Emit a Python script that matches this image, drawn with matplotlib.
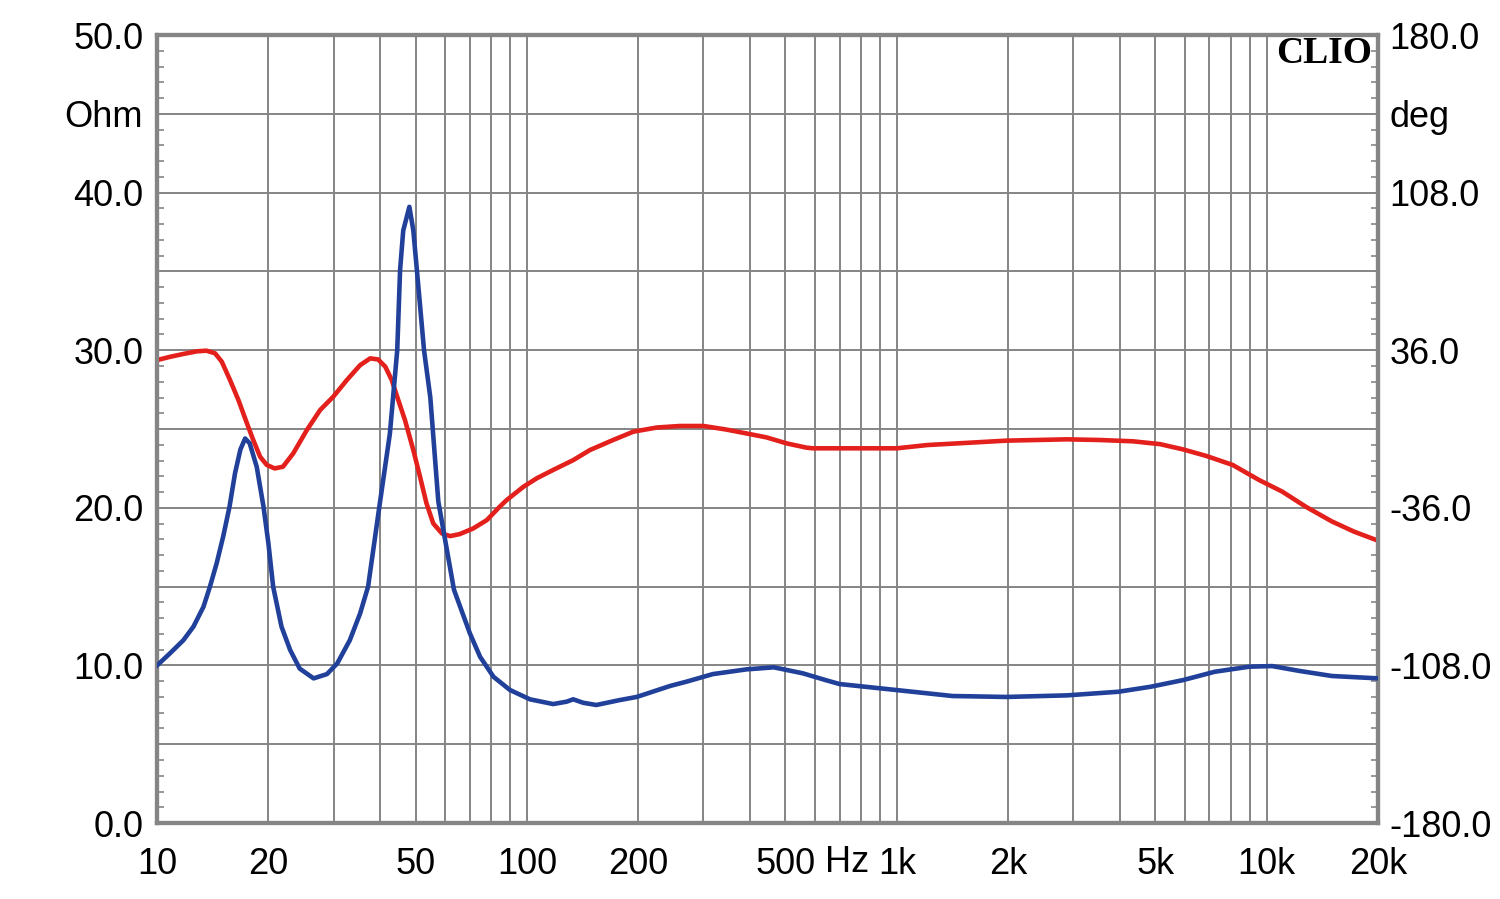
import matplotlib
matplotlib.use("Agg")
import matplotlib.pyplot as plt
from matplotlib.ticker import FixedLocator, NullFormatter, MultipleLocator

# ---- data ----
imp_freq = [10, 10.84, 11.78, 12.54, 13.35, 13.9, 14.5, 15.1, 15.7, 16.25, 16.8, 17.3, 17.8, 18.6,
            19.4, 20.0, 20.6, 21.7, 22.9, 24.3, 26.5, 28.8, 30.7, 33.2, 35.4, 37.2, 39.9, 42.6,
            44.6, 45.4, 46.3, 48.1, 49.3, 50.4, 52.7, 54.8, 57.6, 63.5, 70.1, 74.7, 81.2, 90,
            101.9, 117.7, 128, 133.4, 142, 154, 178, 198, 244, 270, 318, 392, 465, 557, 642, 700,
            900, 1210, 1414, 1977, 2880, 3970, 4860, 5940, 7240, 8970, 10340, 12200, 15000, 20000]
imp_ohm = [10.0, 10.77, 11.6, 12.46, 13.72, 15.0, 16.5, 18.2, 20.07, 22.2, 23.7, 24.4, 24.1, 22.6,
           20.07, 17.75, 15.0, 12.46, 10.98, 9.8, 9.18, 9.45, 10.13, 11.6, 13.3, 15.0, 20.07, 24.7,
           30.0, 35.1, 37.6, 39.1, 37.6, 35.1, 30.0, 27.0, 20.4, 14.8, 12.04, 10.55, 9.28, 8.44,
           7.85, 7.55, 7.7, 7.85, 7.63, 7.49, 7.8, 8.0, 8.7, 8.97, 9.45, 9.75, 9.88, 9.5, 9.07, 8.82,
           8.55, 8.23, 8.06, 8.0, 8.1, 8.33, 8.65, 9.07, 9.6, 9.92, 9.96, 9.66, 9.33, 9.18]

ph_freq = [10, 10.84, 11.78, 12.8, 13.6, 14.35, 14.96, 15.75, 16.6, 17.5, 18.2, 19.0, 19.8, 20.8,
           21.9, 23.35, 25.4, 27.6, 29.96, 32.6, 35.4, 37.7, 39.6, 41.4, 43.1, 44.9, 46.8, 49.3,
           51.4, 53.5, 55.8, 58.9, 62.0, 65.8, 71.6, 77.9, 84.4, 88.2, 97.8, 106.3, 117.7, 133.4,
           148, 171, 194, 224.5, 259, 300, 345, 392, 444, 505, 570, 593, 1000, 1210, 1550, 1977,
           2880, 3530, 4350, 5150, 5940, 6870, 8090, 9540, 11020, 12760, 15000, 17240, 20000]
ph_deg = [31.5, 33.0, 34.3, 35.5, 35.8, 34.6, 30.8, 22.4, 13.2, 2.6, -5.0, -12.7, -16.4, -18.0,
          -17.2, -11.1, -0.5, 8.7, 14.8, 22.4, 29.2, 32.3, 31.8, 28.5, 22.4, 13.2, 4.1, -9.6,
          -21.8, -33.9, -43.1, -47.7, -48.9, -48.0, -45.4, -41.6, -35.5, -32.4, -26.4, -22.5,
          -18.7, -14.2, -9.6, -5.0, -1.2, 0.7, 1.4, 1.4, -0.2, -2.0, -3.8, -6.6, -8.5, -8.8, -8.8,
          -7.3, -6.3, -5.3, -4.7, -5.0, -5.6, -6.9, -9.3, -12.3, -16.4, -23.3, -28.6, -35.5,
          -42.2, -46.9, -51.0]

x_ticks = [10, 20, 50, 100, 200, 500, 1000, 2000, 5000, 10000, 20000]
x_labels = ["10", "20", "50", "100", "200", "500", "1k", "2k", "5k", "10k", "20k"]
ohm_ticks = [0, 5, 10, 15, 20, 25, 30, 35, 40, 45, 50]
ohm_labels = ["0.0", "", "10.0", "", "20.0", "", "30.0", "", "40.0", "Ohm", "50.0"]
deg_ticks = [-180, -144, -108, -72, -36, 0, 36, 72, 108, 144, 180]
deg_labels = ["-180.0", "", "-108.0", "", "-36.0", "", "36.0", "", "108.0", "deg", "180.0"]

plt.rcParams['font.family'] = ['Liberation Sans', 'DejaVu Sans']

fig = plt.figure(figsize=(15, 8.99), dpi=100)
ax = fig.add_axes([0.1047, 0.0845, 0.8140, 0.8765])
ax2 = ax.twinx()
# phase axis behind, impedance axis in front
ax2.set_zorder(0)
ax.set_zorder(1)
ax.patch.set_visible(False)
ax2.xaxis.set_visible(True)

gray = "#858585"
ax.set_xscale("log")
ax.set_xlim(10, 20000)
ax.set_ylim(0, 50)
ax2.set_ylim(-180, 180)

ax.xaxis.set_major_locator(FixedLocator(x_ticks))
minor_x = [m * 10 ** e for e in range(1, 5) for m in range(1, 10)]
minor_x = [v for v in minor_x if 10 <= v <= 20000 and v not in x_ticks]
ax.xaxis.set_minor_locator(FixedLocator(minor_x))
ax.xaxis.set_minor_formatter(NullFormatter())
ax.set_xticks(x_ticks)
ax.set_xticklabels(x_labels)

ax.set_yticks(ohm_ticks)
ax.set_yticklabels(ohm_labels)
ax.yaxis.set_minor_locator(MultipleLocator(1))
ax2.set_yticks(deg_ticks)
ax2.set_yticklabels(deg_labels)
ax2.yaxis.set_minor_locator(MultipleLocator(7.2))

ax2.grid(True, which="both", axis="x", color=gray, linewidth=1.4)
ax2.grid(True, which="major", axis="y", color=gray, linewidth=1.4)

fs = 26
ax.tick_params(axis="x", which="both", length=0, labelsize=fs, pad=17)
ax.tick_params(axis="y", which="major", length=0, labelsize=fs, pad=10)
ax.tick_params(axis="y", which="minor", direction="in", length=5, width=1.2, color=gray)
ax2.tick_params(axis="y", which="major", length=0, labelsize=fs, pad=8)
ax2.tick_params(axis="y", which="minor", direction="in", length=5, width=1.2, color=gray)
ax2.tick_params(axis="x", which="both", length=0, labelbottom=False, labeltop=False)

for a in (ax, ax2):
    for s in a.spines.values():
        s.set_color(gray)
        s.set_linewidth(3)

ax2.plot(ph_freq, ph_deg, color="#e3201c", linewidth=3.3, zorder=3)
ax.plot(imp_freq, imp_ohm, color="#21409a", linewidth=3.3, zorder=3)

ax.text(735, -0.0495, "Hz", transform=ax.get_xaxis_transform(), fontsize=fs,
        ha="center", va="center")
ax.text(0.995, 0.977, "CLIO", transform=ax.transAxes, fontsize=27, fontweight="bold",
        family="Liberation Serif", ha="right", va="center")

fig.savefig("out.png", dpi=100)
